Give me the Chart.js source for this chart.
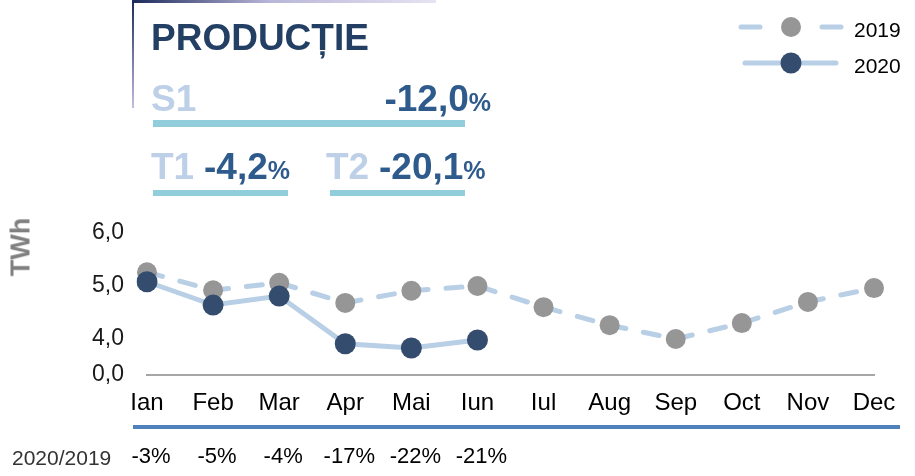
<!DOCTYPE html>
<html>
<head>
<meta charset="utf-8">
<script src="https://cdn.jsdelivr.net/npm/chart.js@4"></script>
<style>
body{margin:0;background:#fff;font-family:"Liberation Sans",Arial,sans-serif}
#wrap{position:relative;width:915px;height:476px;overflow:hidden}
#ProdCanvas{position:absolute;left:0;top:0}
.t{position:absolute;font-weight:bold;white-space:nowrap;font-size:37px;line-height:37px}
.lbl{color:#bdd0e8}
.val{color:#2e5a8c}
.val small{font-size:25px}
.bar{position:absolute;background:#92cddc}
</style>
</head>
<body>
<div id="wrap">
  <canvas id="ProdCanvas" width="915" height="476"></canvas>
  <div style="position:absolute;left:132px;top:0;width:2px;height:108px;background:linear-gradient(to bottom,#1c2a5c,#c4bde0)"></div>
  <div style="position:absolute;left:132px;top:0;width:304px;height:3px;background:linear-gradient(to right,#1c2a5c,#b9b5d8 45%,#e6e3f2)"></div>
  <div class="t" style="left:151px;top:19px;color:#233f63">PRODUCȚIE</div>
  <div class="t lbl" style="left:151px;top:80px">S1</div>
  <div class="t val" style="right:424px;top:80px">-12,0<small>%</small></div>
  <div class="bar" style="left:153px;top:120px;width:312px;height:7px"></div>
  <div class="t lbl" style="left:151px;top:148px">T1</div>
  <div class="t val" style="left:204px;top:148px">-4,2<small>%</small></div>
  <div class="t lbl" style="left:326px;top:148px">T2</div>
  <div class="t val" style="left:379px;top:148px">-20,1<small>%</small></div>
  <div class="bar" style="left:153px;top:190px;width:135px;height:6px"></div>
  <div class="bar" style="left:330px;top:190px;width:135px;height:6px"></div>
  <div style="position:absolute;left:21px;top:247px;transform:translate(-50%,-50%) rotate(-90deg);font-weight:bold;font-size:27px;color:#808080">TWh</div>
</div>
<script>
// date lunare productie (TWh)
const months = ['Ian', 'Feb', 'Mar', 'Apr', 'Mai', 'Iun', 'Iul', 'Aug', 'Sep', 'Oct', 'Nov', 'Dec']
const prod2019 = [5.26, 4.92, 5.06, 4.68, 4.91, 5.00, 4.60, 4.26, 4.00, 4.30, 4.70, 4.96]
const prod2020 = [5.08, 4.64, 4.81, 3.91, 3.83, 3.98]
const change = ['-3%', '-5%', '-4%', '-17%', '-22%', '-21%']
const yTicks = [3.32, 4, 5, 6]
const yTickLabels = ['0,0', '4,0', '5,0', '6,0']

const FONT = '"Liberation Sans", Arial, sans-serif'
const LINE = '#b8cfe6'

const extras = {
    id: 'extras',
    afterDraw(chart) {
        const ctx = chart.ctx
        const x = chart.scales.x
        ctx.save()
        // linia albastra sub luni
        ctx.fillStyle = '#4f81bd'
        ctx.fillRect(133, 425, 767, 4)

        ctx.font = '21px ' + FONT
        ctx.fillStyle = '#333'
        ctx.textAlign = 'left'
        ctx.textBaseline = 'alphabetic'
        ctx.fillText('2020/2019', 12, 465)

        ctx.font = '22px ' + FONT
        ctx.fillStyle = '#000'
        ctx.textAlign = 'center'
        for (let i = 0; i < change.length; i++) {
            ctx.fillText(change[i], x.getPixelForValue(i) + 4, 463)
        }

        // legenda
        ctx.strokeStyle = LINE
        ctx.lineWidth = 5
        ctx.lineCap = 'round'
        ctx.beginPath()
        ctx.moveTo(741, 27); ctx.lineTo(760, 27)
        ctx.moveTo(822, 27); ctx.lineTo(841, 27)
        ctx.moveTo(745, 63); ctx.lineTo(836, 63)
        ctx.stroke()
        ctx.fillStyle = '#969696'
        ctx.beginPath(); ctx.arc(791, 27, 10, 0, Math.PI * 2); ctx.fill()
        ctx.fillStyle = '#344c6e'
        ctx.beginPath(); ctx.arc(791, 63, 10.5, 0, Math.PI * 2); ctx.fill()
        ctx.fillStyle = '#000'
        ctx.textAlign = 'left'
        ctx.font = '21px ' + FONT
        ctx.fillText('2019', 854, 37)
        ctx.fillText('2020', 854, 73)
        ctx.restore()
    }
}

const ctx = document.getElementById('ProdCanvas').getContext('2d')
const chart = new Chart(ctx, {
    type: 'line',
    data: {
        labels: months,
        datasets: [{
            label: '2020',
            data: prod2020,
            order: 0,
            borderColor: LINE,
            borderWidth: 5,
            borderCapStyle: 'round',
            pointRadius: 10.5,
            pointBackgroundColor: '#344c6e',
            pointBorderWidth: 0
        }, {
            label: '2019',
            data: prod2019,
            order: 1,
            borderColor: LINE,
            borderWidth: 5,
            borderDash: [16, 18],
            borderCapStyle: 'round',
            pointRadius: 10,
            pointBackgroundColor: '#969696',
            pointBorderWidth: 0
        }]
    },
    options: {
        responsive: false,
        animation: false,
        layout: { padding: { top: 233, right: 41, left: 0, bottom: 0 } },
        plugins: {
            legend: { display: false },
            tooltip: { enabled: false }
        },
        scales: {
            x: {
                grid: { display: false, drawTicks: false },
                border: { display: true, color: '#a6a6a6', width: 2 },
                ticks: { padding: 14, color: '#000', font: { size: 24, family: FONT }, maxRotation: 0, autoSkip: false },
                afterFit(s) { s.height = 101 }
            },
            y: {
                min: 3.32,
                max: 6,
                grid: { display: false, drawTicks: false },
                border: { display: false },
                afterBuildTicks(s) { s.ticks = yTicks.map(v => ({ value: v })) },
                ticks: {
                    padding: 23,
                    color: '#1a1a1a',
                    font: { size: 23, family: FONT },
                    callback: (v, i) => yTickLabels[i]
                },
                afterFit(s) { s.width = 147 }
            }
        }
    },
    plugins: [extras]
})
</script>
</body>
</html>
